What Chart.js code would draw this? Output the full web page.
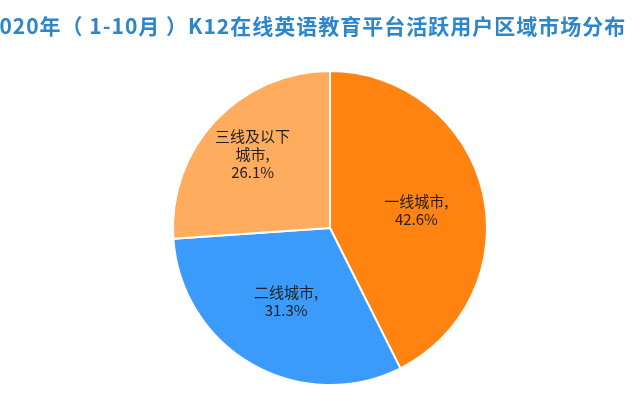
<!DOCTYPE html>
<html><head><meta charset="utf-8">
<script src="https://cdn.jsdelivr.net/npm/chart.js@4"></script>
<style>html,body{margin:0;padding:0;background:#fff}#w{width:640px;height:420px}</style>
</head><body><div id="w"><canvas id="c"></canvas></div>
<script>
const categories = ["一线城市","二线城市","三线及以下城市"];
const labelLines = [["一线城市,","42.6%"],["二线城市,","31.3%"],["三线及以下","城市,","26.1%"]];
const values = [42.6, 31.3, 26.1];
const colors = ["#FF8311","#3A9BFA","#FFAC5E"];
const title = "2020年（ 1-10月 ）K12在线英语教育平台活跃用户区域市场分布";
const font = "'Noto Sans CJK SC', sans-serif";
const labelPlugin = {
  id:'lbl',
  afterDraw(chart){
    const ctx = chart.ctx;
    ctx.save();
    ctx.fillStyle = "#2C86C9";
    ctx.font = "bold 21px " + font;
    try { ctx.letterSpacing = "1px"; } catch(e) {}
    ctx.textBaseline = "middle";
    ctx.textAlign = "left";
    ctx.fillText(title, -14, 26);
    try { ctx.letterSpacing = "0px"; } catch(e) {}
    const meta = chart.getDatasetMeta(0);
    ctx.fillStyle = "#222";
    ctx.font = "15px " + font;
    ctx.textAlign = "center";
    const shift = [[10,0],[-5,5],[-20,-20]];
    meta.data.forEach((arc,i)=>{
      const p = arc.getCenterPoint();
      const lines = labelLines[i];
      const lh = 18;
      lines.forEach((t,j)=>ctx.fillText(t, p.x+shift[i][0], p.y+shift[i][1] + (j-(lines.length-1)/2)*lh));
    });
    ctx.restore();
  }
};
new Chart(document.getElementById('c'), {
  type:'pie',
  data:{labels:categories, datasets:[{data:values, backgroundColor:colors, borderColor:"#fff", borderWidth:2}]},
  options:{responsive:true, maintainAspectRatio:false, animation:false,
    layout:{padding:{top:70,bottom:34,left:20,right:0}},
    plugins:{legend:{display:false}, tooltip:{enabled:false}}},
  plugins:[labelPlugin]
});
</script></body></html>
